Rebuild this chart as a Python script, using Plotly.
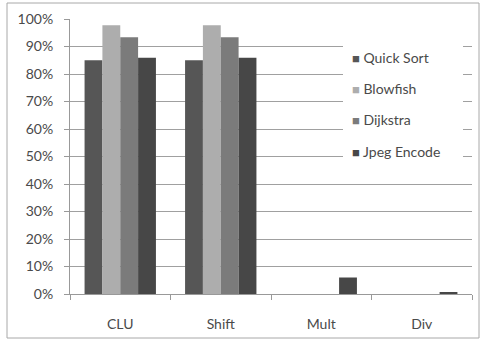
import plotly.graph_objects as go

categories = ["CLU", "Shift", "Mult", "Div"]
series_names = ["Quick Sort", "Blowfish", "Dijkstra", "Jpeg Encode"]
quick_sort = [85, 85, 0, 0]
blowfish = [97.7, 97.7, 0, 0]
dijkstra = [93.4, 93.4, 0, 0]
jpeg_encode = [85.9, 85.9, 6, 0.5]
y_ticks = [0, 10, 20, 30, 40, 50, 60, 70, 80, 90, 100]
y_tick_labels = [f"{v}%" for v in y_ticks]

colors = ["#565656", "#adadad", "#7b7b7b", "#474747"]
values = [quick_sort, blowfish, dijkstra, jpeg_encode]

fig = go.Figure()
for i, (name, vals) in enumerate(zip(series_names, values)):
    fig.add_trace(go.Bar(
        x=categories, y=vals, name=name, marker_color=colors[i],
        marker_line_width=0, showlegend=False,
    ))
# legend entries: small square glyph + name, drawn by the legend itself
for i, name in enumerate(series_names):
    fig.add_trace(go.Scatter(
        x=[None], y=[None], mode="none", legendgroup=name,
        name=f"<span style='color:{colors[i]};font-size:13px'>■</span> {name}",
        showlegend=True,
    ))

W, H = 482, 342
L, R, T, B = 70, 10, 19, 48
pw, ph = W - L - R, H - T - B

def px_x(x):
    return (x - L) / pw

def px_y(y):
    return (H - B - y) / ph

font = "Lato, Open Sans, sans-serif"
txt = "#4a4a4a"
fig.update_layout(
    width=W, height=H,
    margin=dict(l=L, r=R, t=T, b=B),
    paper_bgcolor="white", plot_bgcolor="white",
    barmode="group", bargap=0.29, bargroupgap=0,
    font=dict(family=font, size=14, color=txt),
    showlegend=True,
    legend=dict(
        x=px_x(312), y=px_y(42), xanchor="left", yanchor="top",
        bgcolor="rgba(0,0,0,0)", traceorder="grouped", tracegroupgap=10,
        font=dict(family=font, size=14, color=txt),
        itemwidth=30,
    ),
    xaxis=dict(
        showline=True, linecolor="#999", linewidth=1,
        ticks="outside", ticklen=5, tickcolor="#999",
        tickson="boundaries", showgrid=False, ticklabelstandoff=17,
        tickfont=dict(size=14, color=txt),
    ),
    yaxis=dict(
        range=[0, 100], tickvals=y_ticks, ticktext=y_tick_labels,
        showline=True, linecolor="#999", linewidth=1,
        ticks="outside", ticklen=5, tickcolor="#999",
        showgrid=True, gridcolor="#a0a0a0", gridwidth=1,
        zeroline=False, ticklabelstandoff=8,
        tickfont=dict(size=14, color=txt),
    ),
    shapes=[
        dict(
            type="rect", xref="paper", yref="paper",
            x0=px_x(7), x1=px_x(479), y0=px_y(338), y1=px_y(3),
            line=dict(color="#a8a8a8", width=1), fillcolor="rgba(0,0,0,0)",
            layer="below",
        ),
        dict(
            type="rect", xref="paper", yref="paper",
            x0=px_x(343), x1=px_x(463), y0=px_y(165), y1=px_y(40),
            line=dict(width=0), fillcolor="white", layer="above",
        ),
    ],
)

fig.write_html("out.html", config={"displayModeBar": False},
               post_script="document.body.style.margin='0';")
